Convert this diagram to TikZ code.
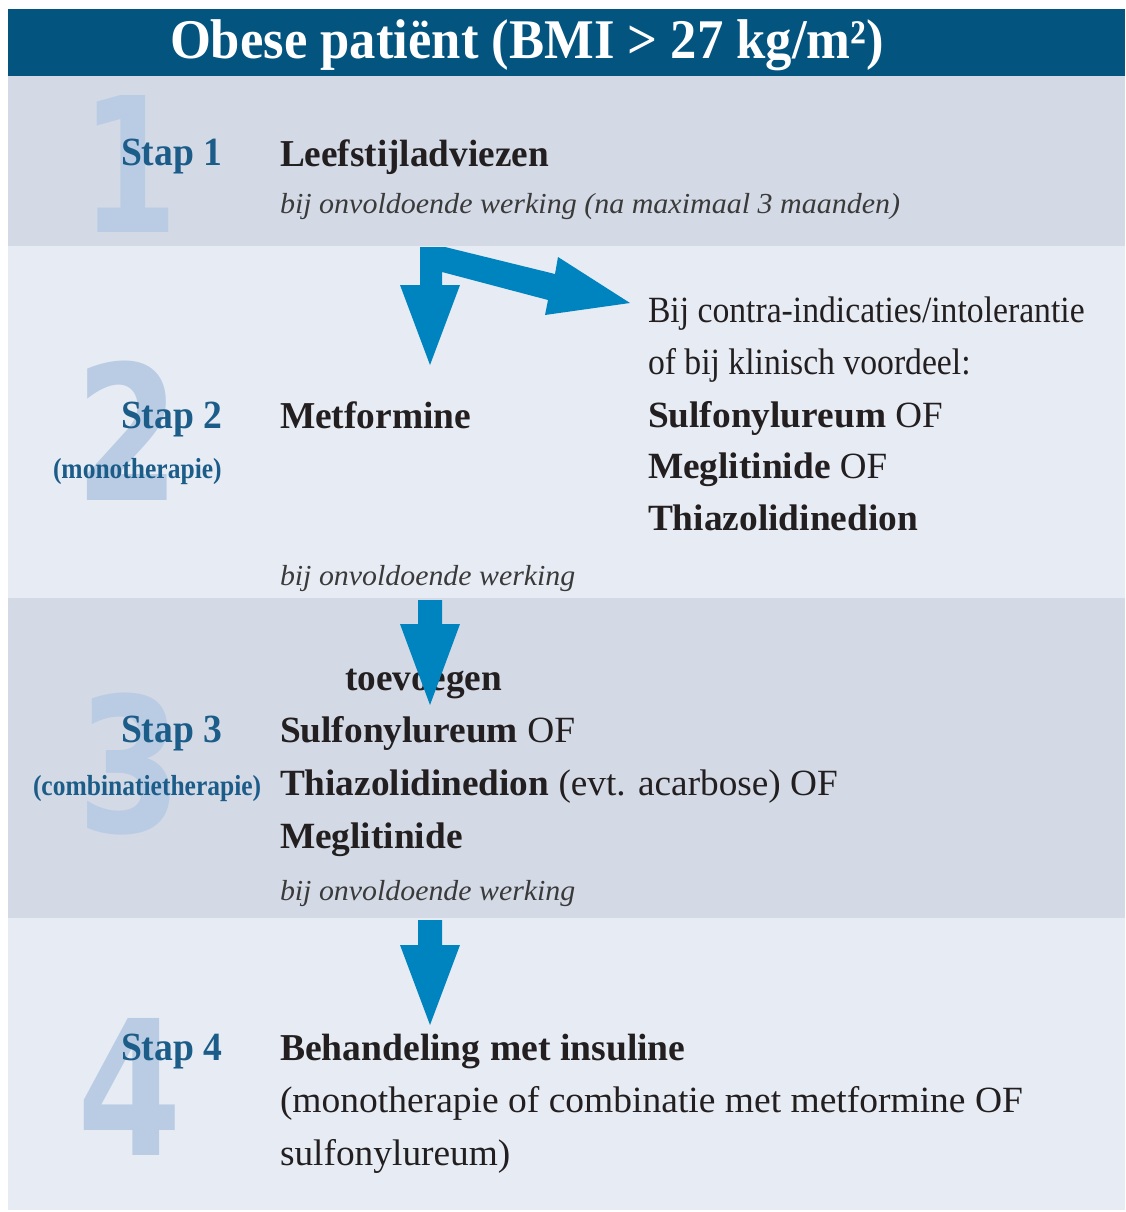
\documentclass[tikz,border=0pt]{standalone}
\usepackage{fontspec}
\usepackage{graphicx}
\setmainfont{Liberation Serif}
\newfontfamily\numfont{DejaVu Sans}

\definecolor{hdrblue}{HTML}{03547F}
\definecolor{banddark}{HTML}{D3DAE6}
\definecolor{bandlight}{HTML}{E7ECF4}
\definecolor{arrowblue}{HTML}{0084C0}
\definecolor{stepblue}{HTML}{1C5C89}
\definecolor{numblue}{HTML}{BACCE4}
\definecolor{bodytext}{HTML}{231F20}
\definecolor{notetext}{HTML}{3A3A3A}

% horizontal squeeze of a piece of text
\newcommand{\hsq}[2]{\scalebox{#1}[1]{#2}}
% bold drug name inside a regular line
\newcommand{\drug}[1]{\textbf{#1}}

\begin{document}
\begin{tikzpicture}[x=1pt,y=-1pt,
  every node/.style={inner sep=0pt, outer sep=0pt},
  bignum/.style={anchor=base, text=numblue,
    font=\numfont\fontsize{188}{188}\selectfont\bfseries},
  steplabel/.style={anchor=base west, text=stepblue,
    font=\fontsize{40}{40}\selectfont\bfseries},
  stepsub/.style={anchor=base west, text=stepblue,
    font=\fontsize{29}{29}\selectfont\bfseries},
  bodyb/.style={anchor=base west, text=bodytext,
    font=\fontsize{38}{38}\selectfont\bfseries},
  bodyr/.style={anchor=base west, text=bodytext,
    font=\fontsize{37}{37}\selectfont},
  note/.style={anchor=base west, text=notetext,
    font=\fontsize{29}{29}\selectfont\itshape},
  blockarrow/.style={fill=arrowblue, draw=none}
]
\useasboundingbox (0,0) rectangle (1125,1212);
\fill[white] (0,0) rectangle (1125,1212);

% bands
\fill[hdrblue]   (8,9)    rectangle (1125,76);
\fill[banddark]  (8,76)   rectangle (1125,246);
\fill[bandlight] (8,246)  rectangle (1125,598);
\fill[banddark]  (8,598)  rectangle (1125,918);
\fill[bandlight] (8,918)  rectangle (1125,1210);

% title
\node[anchor=base, text=white, font=\fontsize{56}{56}\selectfont\bfseries]
  (title) at (527,59) {\hsq{0.94}{Obese patiënt (BMI > 27 kg/m²)}};

% large step numerals
\node[bignum] (n1) at (130,232)  {\hsq{0.74}{1}};
\node[bignum] (n2) at (128,500)  {\hsq{0.8}{2}};
\node[bignum] (n3) at (130,832)  {\hsq{0.8}{3}};
\node[bignum] (n4) at (130,1155) {\hsq{0.8}{4}};

% step 1
\node[steplabel] (s1) at (121,165) {\hsq{0.94}{Stap 1}};
\node[bodyb] (leef) at (280,166) {\hsq{0.98}{Leefstijladviezen}};
\node[note] (n1note) at (280,213) {\hsq{1.035}{bij onvoldoende werking (na maximaal 3 maanden)}};

% step 2
\node[steplabel] (s2) at (121,428) {\hsq{0.94}{Stap 2}};
\node[stepsub] (s2sub) at (53,478) {\hsq{0.88}{(monotherapie)}};
\node[bodyb] (metf) at (280,428) {\hsq{0.985}{Metformine}};
\node[bodyr] (alt1) at (648,322) {\hsq{0.91}{Bij contra-indicaties/intolerantie}};
\node[bodyr] (alt2) at (648,374) {\hsq{0.91}{of bij klinisch voordeel:}};
\node[bodyr] (alt3) at (648,427) {\hsq{1.01}{\drug{Sulfonylureum}} OF};
\node[bodyr] (alt4) at (648,478) {\hsq{1.01}{\drug{Meglitinide}} OF};
\node[bodyr] (alt5) at (648,530) {\hsq{1.01}{\drug{Thiazolidinedion}}};
\node[note] (n2note) at (280,585) {\hsq{1.03}{bij onvoldoende werking}};

% step 3
\node[steplabel] (s3) at (121,742) {\hsq{0.94}{Stap 3}};
\node[stepsub] (s3sub) at (33,795) {\hsq{0.88}{(combinatietherapie)}};
\node[bodyb] (toev) at (345,690) {\hsq{0.98}{toevoegen}};
\node[bodyr] (c1) at (280,742) {\hsq{1.01}{\drug{Sulfonylureum} OF}};
\node[bodyr] (c2) at (280,795) {\hsq{1.007}{\drug{Thiazolidinedion} (evt. acarbose) OF}};
\node[bodyr] (c3) at (280,848) {\hsq{1.01}{\drug{Meglitinide}}};
\node[note] (n3note) at (280,900) {\hsq{1.03}{bij onvoldoende werking}};

% step 4
\node[steplabel] (s4) at (121,1060) {\hsq{0.94}{Stap 4}};
\node[bodyb] (ins) at (280,1060) {\hsq{0.99}{Behandeling met insuline}};
\node[bodyr] (ins2) at (280,1112) {\hsq{1.014}{(monotherapie of combinatie met metformine OF}};
\node[bodyr] (ins3) at (280,1165) {\hsq{1.01}{sulfonylureum)}};

% arrow anchors
\coordinate (a1top) at (430,247);
\coordinate (a2top) at (430,600);
\coordinate (a3top) at (430,920);

% step 1 -> metformine, with a branch to the alternatives
\fill[blockarrow, shift={(a1top)}]
  (-10,0) -- (15,0) -- (125,27) -- (128,10) -- (200,56) -- (115,68)
  -- (118,53) -- (12,25) -- (12,38) -- (30,38) -- (0,118)
  -- (-30,38) -- (-10,38) -- cycle;

% step 2 -> step 3
\fill[blockarrow, shift={(a2top)}]
  (-12,0) -- (12,0) -- (12,24) -- (30,24) -- (0,105)
  -- (-30,24) -- (-12,24) -- cycle;

% step 3 -> step 4
\fill[blockarrow, shift={(a3top)}]
  (-12,0) -- (12,0) -- (12,25) -- (30,25) -- (0,105)
  -- (-30,25) -- (-12,25) -- cycle;
\end{tikzpicture}
\end{document}
